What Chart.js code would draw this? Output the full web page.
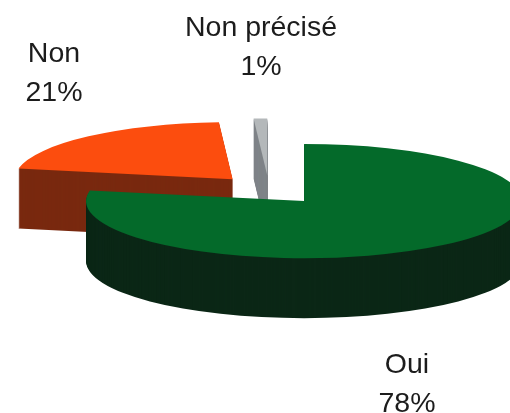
<!DOCTYPE html>
<html>
<head>
<meta charset="utf-8">
<title>Oui / Non</title>
<script src="https://cdn.jsdelivr.net/npm/chart.js@4"></script>
<style>
    html, body { margin: 0; padding: 0; background: #fff; }
    canvas { display: block; }
</style>
</head>
<body>
<canvas id="pie" width="510" height="413"></canvas>
<script>
// slices run clockwise, the back ones first so that Oui paints over them
const categories = ['Non', 'Non précisé', 'Oui'];
const values = [21, 1, 78];
const faceColors = ['#fc4d0e', '#b4b8ba', '#046a2a'];
const wallColors = ['#79290f', '#7f8488', '#0b2716'];

const textColor = '#1c1c1c';
const labelFont = '28.5px "Liberation Sans"';
const labelLine = 38.5;
// baseline of the first text line of each slice label
const labelSpots = [[54, 62], [261, 36], [407, 373]];

const squash = 0.262;    // height of the tilted ellipse against its width
const wallDepth = 60;
const explode = 55;

function tilt(ctx, arc, dy) {
    ctx.translate(0, arc.y + dy);
    ctx.scale(1, squash);
    ctx.translate(0, -arc.y);
    const mid = (arc.startAngle + arc.endAngle) / 2;
    ctx.translate(Math.cos(mid) * explode, Math.sin(mid) * explode);
}

const pie3d = {
    id: 'pie3d',
    beforeDatasetDraw() {
        return false; // drawn below, walls first
    },
    beforeDatasetsDraw(chart) {
        const ctx = chart.ctx;
        const arcs = chart.getDatasetMeta(0).data;

        arcs.forEach((arc, i) => {
            ctx.fillStyle = wallColors[i];
            for (let dy = wallDepth; dy > 0; dy--) {
                ctx.save();
                tilt(ctx, arc, dy);
                ctx.beginPath();
                ctx.moveTo(arc.x, arc.y);
                ctx.arc(arc.x, arc.y, arc.outerRadius, arc.startAngle, arc.endAngle);
                ctx.closePath();
                ctx.fill();
                ctx.restore();
            }
        });

        arcs.forEach(arc => {
            ctx.save();
            tilt(ctx, arc, 0);
            arc.draw(ctx);
            ctx.restore();
        });
    },
    afterDraw(chart) {
        const ctx = chart.ctx;
        ctx.save();
        ctx.fillStyle = textColor;
        ctx.font = labelFont;
        ctx.textAlign = 'center';
        ctx.textBaseline = 'alphabetic';
        categories.forEach((name, i) => {
            const [x, y] = labelSpots[i];
            ctx.fillText(name, x, y);
            ctx.fillText(values[i] + '%', x, y + labelLine);
        });
        ctx.restore();
    }
};

new Chart(document.getElementById('pie'), {
    type: 'pie',
    data: {
        labels: categories,
        datasets: [{
            data: values,
            backgroundColor: faceColors,
            borderWidth: 0,
            clip: false
        }]
    },
    options: {
        responsive: false,
        animation: false,
        radius: 218,
        rotation: 280.8,
        layout: { padding: { left: 28, bottom: 33 } },
        plugins: {
            legend: { display: false },
            tooltip: { enabled: false }
        }
    },
    plugins: [pie3d]
});
</script>
</body>
</html>
